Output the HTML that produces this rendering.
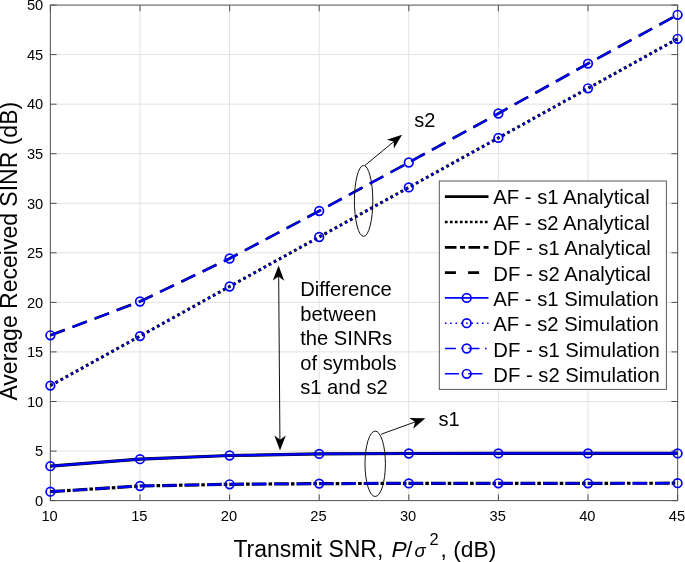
<!DOCTYPE html>
<html><head><meta charset="utf-8"><title>chart</title>
<style>html,body{margin:0;padding:0;background:#fff;}svg{display:block;will-change:transform;}text{font-family:"Liberation Sans",sans-serif;fill:#000;}</style></head><body>
<svg width="685" height="562" viewBox="0 0 685 562">
<rect x="0" y="0" width="685" height="562" fill="#fff"/>
<g stroke="#e2e2e2" stroke-width="1" fill="none"><line x1="140.0" y1="5.1" x2="140.0" y2="500.6"/><line x1="229.6" y1="5.1" x2="229.6" y2="500.6"/><line x1="319.2" y1="5.1" x2="319.2" y2="500.6"/><line x1="408.8" y1="5.1" x2="408.8" y2="500.6"/><line x1="498.4" y1="5.1" x2="498.4" y2="500.6"/><line x1="588.0" y1="5.1" x2="588.0" y2="500.6"/><line x1="50.35" y1="54.6" x2="677.65" y2="54.6"/><line x1="50.35" y1="104.2" x2="677.65" y2="104.2"/><line x1="50.35" y1="153.7" x2="677.65" y2="153.7"/><line x1="50.35" y1="203.3" x2="677.65" y2="203.3"/><line x1="50.35" y1="252.8" x2="677.65" y2="252.8"/><line x1="50.35" y1="302.4" x2="677.65" y2="302.4"/><line x1="50.35" y1="351.9" x2="677.65" y2="351.9"/><line x1="50.35" y1="401.5" x2="677.65" y2="401.5"/><line x1="50.35" y1="451.1" x2="677.65" y2="451.1"/></g>
<g stroke="#4d4d4d" stroke-width="1" fill="none"><line x1="50.4" y1="500.6" x2="50.4" y2="494.40000000000003"/><line x1="50.4" y1="5.1" x2="50.4" y2="11.3"/><line x1="140.0" y1="500.6" x2="140.0" y2="494.40000000000003"/><line x1="140.0" y1="5.1" x2="140.0" y2="11.3"/><line x1="229.6" y1="500.6" x2="229.6" y2="494.40000000000003"/><line x1="229.6" y1="5.1" x2="229.6" y2="11.3"/><line x1="319.2" y1="500.6" x2="319.2" y2="494.40000000000003"/><line x1="319.2" y1="5.1" x2="319.2" y2="11.3"/><line x1="408.8" y1="500.6" x2="408.8" y2="494.40000000000003"/><line x1="408.8" y1="5.1" x2="408.8" y2="11.3"/><line x1="498.4" y1="500.6" x2="498.4" y2="494.40000000000003"/><line x1="498.4" y1="5.1" x2="498.4" y2="11.3"/><line x1="588.0" y1="500.6" x2="588.0" y2="494.40000000000003"/><line x1="588.0" y1="5.1" x2="588.0" y2="11.3"/><line x1="677.6" y1="500.6" x2="677.6" y2="494.40000000000003"/><line x1="677.6" y1="5.1" x2="677.6" y2="11.3"/><line x1="50.35" y1="5.1" x2="56.550000000000004" y2="5.1"/><line x1="677.65" y1="5.1" x2="671.4499999999999" y2="5.1"/><line x1="50.35" y1="54.6" x2="56.550000000000004" y2="54.6"/><line x1="677.65" y1="54.6" x2="671.4499999999999" y2="54.6"/><line x1="50.35" y1="104.2" x2="56.550000000000004" y2="104.2"/><line x1="677.65" y1="104.2" x2="671.4499999999999" y2="104.2"/><line x1="50.35" y1="153.7" x2="56.550000000000004" y2="153.7"/><line x1="677.65" y1="153.7" x2="671.4499999999999" y2="153.7"/><line x1="50.35" y1="203.3" x2="56.550000000000004" y2="203.3"/><line x1="677.65" y1="203.3" x2="671.4499999999999" y2="203.3"/><line x1="50.35" y1="252.8" x2="56.550000000000004" y2="252.8"/><line x1="677.65" y1="252.8" x2="671.4499999999999" y2="252.8"/><line x1="50.35" y1="302.4" x2="56.550000000000004" y2="302.4"/><line x1="677.65" y1="302.4" x2="671.4499999999999" y2="302.4"/><line x1="50.35" y1="351.9" x2="56.550000000000004" y2="351.9"/><line x1="677.65" y1="351.9" x2="671.4499999999999" y2="351.9"/><line x1="50.35" y1="401.5" x2="56.550000000000004" y2="401.5"/><line x1="677.65" y1="401.5" x2="671.4499999999999" y2="401.5"/><line x1="50.35" y1="451.1" x2="56.550000000000004" y2="451.1"/><line x1="677.65" y1="451.1" x2="671.4499999999999" y2="451.1"/><line x1="50.35" y1="500.6" x2="56.550000000000004" y2="500.6"/><line x1="677.65" y1="500.6" x2="671.4499999999999" y2="500.6"/></g>
<rect x="50.35" y="5.1" width="627.3" height="495.5" fill="none" stroke="#505050" stroke-width="1"/>
<g font-size="14.67" fill="#1a1a1a"><text x="49.6" y="520.9" text-anchor="middle">10</text><text x="139.3" y="520.9" text-anchor="middle">15</text><text x="228.9" y="520.9" text-anchor="middle">20</text><text x="318.5" y="520.9" text-anchor="middle">25</text><text x="408.1" y="520.9" text-anchor="middle">30</text><text x="497.7" y="520.9" text-anchor="middle">35</text><text x="587.3" y="520.9" text-anchor="middle">40</text><text x="676.9" y="520.9" text-anchor="middle">45</text><text x="43.2" y="505.8" text-anchor="end">0</text><text x="43.2" y="456.2" text-anchor="end">5</text><text x="43.2" y="406.7" text-anchor="end">10</text><text x="43.2" y="357.2" text-anchor="end">15</text><text x="43.2" y="307.6" text-anchor="end">20</text><text x="43.2" y="258.1" text-anchor="end">25</text><text x="43.2" y="208.5" text-anchor="end">30</text><text x="43.2" y="159.0" text-anchor="end">35</text><text x="43.2" y="109.4" text-anchor="end">40</text><text x="43.2" y="59.9" text-anchor="end">45</text><text x="43.2" y="10.3" text-anchor="end">50</text></g>
<text transform="translate(16.8,251.2) rotate(-90)" font-size="23" text-anchor="middle">Average Received SINR (dB)</text>
<g font-size="22.8"><text x="233.4" y="556.6" font-size="23">Transmit SNR,</text><text x="391.6" y="556.6" font-style="italic">P</text><text x="405.9" y="556.6">/</text><text x="414.6" y="556.6" font-style="italic" font-size="18.5">σ</text><text x="429.6" y="544.6" font-size="16.4">2</text><text x="440.6" y="556.6">, (dB)</text></g>
<g fill="none" stroke-linejoin="round">
<polyline points="50.4,466.2 140.0,459.2 229.6,455.5 319.2,453.9 408.8,453.5 498.4,453.4 588.0,453.4 677.6,453.4" stroke="#000" stroke-width="3.2"/>
<polyline points="50.4,466.2 140.0,459.2 229.6,455.5 319.2,453.9 408.8,453.5 498.4,453.4 588.0,453.4 677.6,453.4" stroke="#0000ff" stroke-width="2.2"/>
<polyline points="50.4,385.6 140.0,336.1 229.6,286.5 319.2,237.0 408.8,187.4 498.4,137.9 588.0,88.3 677.6,38.8" stroke="#000" stroke-width="3.1" stroke-dasharray="2.9 2.9"/>
<polyline points="50.4,385.6 140.0,336.1 229.6,286.5 319.2,237.0 408.8,187.4 498.4,137.9 588.0,88.3 677.6,38.8" stroke="#0000ff" stroke-width="1.9" stroke-dasharray="1.9 3.9" stroke-dashoffset="-0.5"/>
<polyline points="50.4,491.7 140.0,486.0 229.6,484.3 319.2,483.6 408.8,483.4 498.4,483.3 588.0,483.3 677.6,483.2" stroke="#000" stroke-width="3.2" stroke-dasharray="14.6 2.1 3.6 2.1"/>
<polyline points="50.4,491.7 140.0,486.0 229.6,484.3 319.2,483.6 408.8,483.4 498.4,483.3 588.0,483.3 677.6,483.2" stroke="#0000ff" stroke-width="2.3" stroke-dasharray="14.6 7.8"/>
<polyline points="50.4,335.3 140.0,301.5 229.6,258.5 319.2,211.0 408.8,162.5 498.4,113.5 588.0,63.6 677.6,14.8" stroke="#000" stroke-width="2.7" stroke-dasharray="15.4 8.2" stroke-dashoffset="0"/>
<polyline points="50.4,335.3 140.0,301.5 229.6,258.5 319.2,211.0 408.8,162.5 498.4,113.5 588.0,63.6 677.6,14.8" stroke="#0000ff" stroke-width="2.1" stroke-dasharray="15.4 8.2" stroke-dashoffset="0"/>
</g>
<g fill="none" stroke="#0000ff" stroke-width="1.7"><circle cx="50.4" cy="466.2" r="4.3"/><circle cx="140.0" cy="459.2" r="4.3"/><circle cx="229.6" cy="455.5" r="4.3"/><circle cx="319.2" cy="453.9" r="4.3"/><circle cx="408.8" cy="453.5" r="4.3"/><circle cx="498.4" cy="453.4" r="4.3"/><circle cx="588.0" cy="453.4" r="4.3"/><circle cx="677.6" cy="453.4" r="4.3"/><circle cx="50.4" cy="385.6" r="4.3"/><circle cx="140.0" cy="336.1" r="4.3"/><circle cx="229.6" cy="286.5" r="4.3"/><circle cx="319.2" cy="237.0" r="4.3"/><circle cx="408.8" cy="187.4" r="4.3"/><circle cx="498.4" cy="137.9" r="4.3"/><circle cx="588.0" cy="88.3" r="4.3"/><circle cx="677.6" cy="38.8" r="4.3"/><circle cx="50.4" cy="491.7" r="4.3"/><circle cx="140.0" cy="486.0" r="4.3"/><circle cx="229.6" cy="484.3" r="4.3"/><circle cx="319.2" cy="483.6" r="4.3"/><circle cx="408.8" cy="483.4" r="4.3"/><circle cx="498.4" cy="483.3" r="4.3"/><circle cx="588.0" cy="483.3" r="4.3"/><circle cx="677.6" cy="483.2" r="4.3"/><circle cx="50.4" cy="335.3" r="4.3"/><circle cx="140.0" cy="301.5" r="4.3"/><circle cx="229.6" cy="258.5" r="4.3"/><circle cx="319.2" cy="211.0" r="4.3"/><circle cx="408.8" cy="162.5" r="4.3"/><circle cx="498.4" cy="113.5" r="4.3"/><circle cx="588.0" cy="63.6" r="4.3"/><circle cx="677.6" cy="14.8" r="4.3"/></g>
<g fill="none" stroke="#111" stroke-width="1"><ellipse cx="363.6" cy="200.9" rx="9.2" ry="35.5"/><ellipse cx="375.2" cy="463.8" rx="10.2" ry="32.7"/><line x1="365" y1="165.4" x2="396" y2="139.8"/><line x1="380.9" y1="434.3" x2="418" y2="420.9"/><line x1="278.65" y1="274" x2="279.95" y2="442"/></g>
<g fill="#000" stroke="none"><path transform="translate(402.1,134.8) rotate(-38.38653951768524)" d="M0,0 L-15,-5.7 L-10.8,0 L-15,5.7 Z"/><path transform="translate(425.4,418.3) rotate(-19.661980040847098)" d="M0,0 L-15,-5.7 L-10.8,0 L-15,5.7 Z"/><path transform="translate(278.6,265.6) rotate(-89.6)" d="M0,0 L-15,-5.7 L-10.8,0 L-15,5.7 Z"/><path transform="translate(280.0,450.5) rotate(90.4)" d="M0,0 L-15,-5.7 L-10.8,0 L-15,5.7 Z"/></g>
<g font-size="20"><text x="414.2" y="126.5">s2</text><text x="438.6" y="425.6">s1</text></g>
<g font-size="20.2">
<text x="300.2" y="296.0">Difference</text>
<text x="300.2" y="320.5">between</text>
<text x="300.2" y="345.0">the SINRs</text>
<text x="300.2" y="369.5">of symbols</text>
<text x="300.2" y="394.0">s1 and s2</text>
</g>
<rect x="439.3" y="181.0" width="227.1" height="208.4" fill="#fff" stroke="#5a5a5a" stroke-width="1"/>
<g font-size="20.25">
<text x="493.3" y="204.2">AF - s1 Analytical</text>
<text x="493.3" y="229.6">AF - s2 Analytical</text>
<text x="493.3" y="255.0">DF - s1 Analytical</text>
<text x="493.3" y="280.5">DF - s2 Analytical</text>
<text x="493.3" y="305.9">AF - s1 Simulation</text>
<text x="493.3" y="331.3">AF - s2 Simulation</text>
<text x="493.3" y="356.7">DF - s1 Simulation</text>
<text x="493.3" y="382.1">DF - s2 Simulation</text>
</g>
<g fill="none">
<line x1="444.9" y1="196.7" x2="488.5" y2="196.7" stroke="#000" stroke-width="2.8"/>
<line x1="444.9" y1="222.0" x2="488.5" y2="222.0" stroke="#000" stroke-width="2.7" stroke-dasharray="2.7 2.3"/>
<line x1="444.9" y1="247.29999999999998" x2="488.5" y2="247.29999999999998" stroke="#000" stroke-width="2.8" stroke-dasharray="11.6 3.5 5 3.5"/>
<line x1="444.9" y1="272.6" x2="488.5" y2="272.6" stroke="#000" stroke-width="2.8" stroke-dasharray="11 12.2"/>
<line x1="444.9" y1="297.9" x2="488.5" y2="297.9" stroke="#0000ff" stroke-width="1.6"/>
<line x1="444.9" y1="323.2" x2="488.5" y2="323.2" stroke="#0000ff" stroke-width="1.6" stroke-dasharray="1.6 3.7"/>
<line x1="444.9" y1="348.5" x2="488.5" y2="348.5" stroke="#0000ff" stroke-width="1.6" stroke-dasharray="11 5.5 1.6 5.5"/>
<line x1="444.9" y1="373.79999999999995" x2="488.5" y2="373.79999999999995" stroke="#0000ff" stroke-width="1.6" stroke-dasharray="14 9.4"/>
<circle cx="466.7" cy="297.9" r="4.3" stroke="#0000ff" stroke-width="1.7" fill="none"/>
<circle cx="466.7" cy="323.2" r="4.3" stroke="#0000ff" stroke-width="1.7" fill="none"/>
<circle cx="466.7" cy="348.5" r="4.3" stroke="#0000ff" stroke-width="1.7" fill="none"/>
<circle cx="466.7" cy="373.79999999999995" r="4.3" stroke="#0000ff" stroke-width="1.7" fill="none"/>
</g>
</svg></body></html>
